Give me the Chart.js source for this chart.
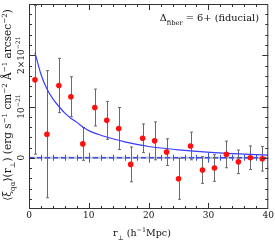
<!DOCTYPE html>
<html>
<head>
<meta charset="utf-8">
<script src="https://cdn.jsdelivr.net/npm/chart.js@4.4.0/dist/chart.umd.min.js"></script>
<style>
  html, body { margin: 0; padding: 0; background: #fff; }
  #wrap { width: 275px; height: 242px; }
</style>
</head>
<body>
<div id="wrap"><canvas id="chart"></canvas></div>
<script>
// measured points (units of 1e-21)
const rPerp = [1, 3, 5, 7, 9, 11, 13, 15, 17, 19, 21, 23, 25, 27, 29, 31, 33, 35, 37, 39];
const xiMean = [1.52, 0.46, 1.41, 1.19, 0.27, 0.98, 0.73, 0.57, -0.13, 0.38, 0.33, 0.11, -0.41, 0.23, -0.24, -0.2, 0.065, -0.08, 0.0, -0.02];
const xiErr = [1.45, 1.24, 0.53, 0.39, 0.32, 0.36, 0.37, 0.41, 0.34, 0.28, 0.37, 0.26, 0.4, 0.27, 0.26, 0.26, 0.26, 0.23, 0.23, 0.24];

// model curve
const modelR = [1, 2, 3, 4, 5, 6, 7, 8, 9, 10, 12, 14, 16, 18, 20, 22, 25, 28, 31, 34, 37, 40];
const modelXi = [2.05, 1.63, 1.34, 1.15, 1.0, 0.87, 0.77, 0.69, 0.6, 0.53, 0.44, 0.37, 0.31, 0.26, 0.22, 0.19, 0.155, 0.125, 0.1, 0.08, 0.065, 0.05];

const yTickVals = [0, 1, 2];
const yTickText = [[["0", 0]], [["10", 0], ["−21", 1]], [["2×10", 0], ["−21", 1]]];

const FAM = "'DejaVu Serif', serif";

function drawRich(ctx, parts, x, y, size, align) {
  const fonts = parts.map(p => (p[1] ? size * 0.68 : size) + "px " + FAM);
  let w = 0;
  parts.forEach((p, i) => { ctx.font = fonts[i]; w += ctx.measureText(p[0]).width; });
  let cx = align === "right" ? x - w : x - w / 2;
  ctx.textAlign = "left";
  ctx.textBaseline = "alphabetic";
  parts.forEach((p, i) => {
    ctx.font = fonts[i];
    ctx.fillText(p[0], cx, y - p[1] * size * 0.42);
    cx += ctx.measureText(p[0]).width;
  });
}

const decor = {
  id: "decor",
  beforeDatasetsDraw(chart) {
    const { ctx, chartArea: a, scales: { x, y } } = chart;
    ctx.save();
    // zero line
    const y0 = y.getPixelForValue(0);
    ctx.strokeStyle = "#b8b8c8";
    ctx.lineWidth = 2;
    ctx.beginPath(); ctx.moveTo(a.left, y0); ctx.lineTo(a.right, y0); ctx.stroke();
    ctx.strokeStyle = "#3a4cf0";
    ctx.lineWidth = 1.3;
    ctx.setLineDash([5, 3]);
    ctx.beginPath(); ctx.moveTo(a.left, y0); ctx.lineTo(a.right, y0); ctx.stroke();
    ctx.setLineDash([]);
    ctx.strokeStyle = "#4455dd";
    ctx.lineWidth = 1;
    for (let v = 2; v < 40; v += 2) {
      const px = Math.round(x.getPixelForValue(v)) + 0.5;
      const len = v % 10 === 0 ? 5 : 3;
      ctx.beginPath(); ctx.moveTo(px, y0 - len); ctx.lineTo(px, y0 + len); ctx.stroke();
    }
    // error bars
    ctx.beginPath();
    ctx.rect(a.left, a.top, a.right - a.left, a.bottom - a.top);
    ctx.clip();
    ctx.strokeStyle = "#6a6a6a";
    ctx.lineWidth = 1;
    rPerp.forEach((r, i) => {
      const px = Math.round(x.getPixelForValue(r)) + 0.5;
      const top = y.getPixelForValue(xiMean[i] + xiErr[i]);
      const bot = y.getPixelForValue(xiMean[i] - xiErr[i]);
      ctx.beginPath();
      ctx.moveTo(px, top); ctx.lineTo(px, bot);
      ctx.moveTo(px - 1.5, top); ctx.lineTo(px + 1.5, top);
      ctx.moveTo(px - 1.5, bot); ctx.lineTo(px + 1.5, bot);
      ctx.stroke();
    });
    ctx.restore();
  },
  afterDraw(chart) {
    const { ctx, chartArea: a, scales: { x, y } } = chart;
    ctx.save();
    ctx.strokeStyle = "#333";
    ctx.lineWidth = 1;
    ctx.strokeRect(a.left + 0.5, a.top + 0.5, a.right - a.left - 1, a.bottom - a.top - 1);
    ctx.beginPath();
    for (let v = 2; v < 40; v += 2) {
      const px = Math.round(x.getPixelForValue(v)) + 0.5;
      const len = v % 10 === 0 ? 6 : 3;
      ctx.moveTo(px, a.bottom); ctx.lineTo(px, a.bottom - len);
      ctx.moveTo(px, a.top); ctx.lineTo(px, a.top + len);
    }
    for (let k = -4; k <= 14; k++) {
      const v = k / 5;
      const py = Math.round(y.getPixelForValue(v)) + 0.5;
      const len = k % 5 === 0 ? 6 : 3;
      ctx.moveTo(a.left, py); ctx.lineTo(a.left + len, py);
      ctx.moveTo(a.right, py); ctx.lineTo(a.right - len, py);
    }
    ctx.stroke();

    ctx.fillStyle = "#111";
    // y tick labels, rotated
    yTickVals.forEach((v, i) => {
      ctx.save();
      ctx.translate(a.left - 5, y.getPixelForValue(v));
      ctx.rotate(-Math.PI / 2);
      drawRich(ctx, yTickText[i], 0, 0, 9, "center");
      ctx.restore();
    });
    // y title
    ctx.save();
    ctx.translate(11, 105);
    ctx.rotate(-Math.PI / 2);
    drawRich(ctx, [["⟨ξ", 0], ["qα", -1], ["⟩(r", 0], ["⊥", -1], [") (erg s", 0], ["−1", 1], [" cm", 0], ["−2", 1],
      [" Å", 0], ["−1", 1], [" arcsec", 0], ["−2", 1], [")", 0]], 0, 0, 10.5, "center");
    ctx.restore();
    // x title
    drawRich(ctx, [["r", 0], ["⊥", -1], [" (h", 0], ["−1", 1], ["Mpc)", 0]], 142, 236, 9.5, "center");
    // label
    drawRich(ctx, [["Δ", 0], ["fiber", -1], [" = 6+ (fiducial)", 0]], 259, 21, 9.8, "right");
    ctx.restore();
  }
};

new Chart(document.getElementById("chart"), {
  type: "scatter",
  data: {
    datasets: [
      {
        data: rPerp.map((r, i) => ({ x: r, y: xiMean[i] })),
        backgroundColor: "#ff1010",
        borderColor: "#ff1010",
        pointRadius: 2.8,
        borderWidth: 0
      },
      {
        type: "line",
        data: modelR.map((r, i) => ({ x: r, y: modelXi[i] })),
        borderColor: "#3a3cff",
        borderWidth: 1.2,
        pointRadius: 0,
        cubicInterpolationMode: "monotone",
        fill: false
      }
    ]
  },
  plugins: [decor],
  options: {
    responsive: true,
    maintainAspectRatio: false,
    animation: false,
    layout: { padding: { left: 0, right: 6, top: 1, bottom: 0 } },
    plugins: { legend: { display: false }, tooltip: { enabled: false } },
    scales: {
      x: {
        type: "linear", min: 0, max: 40,
        grid: { display: false, drawTicks: false },
        border: { display: false },
        ticks: { stepSize: 10, color: "#111", padding: 1, font: { family: FAM, size: 9 } },
        afterFit(s) { s.height = 33; }
      },
      y: {
        min: -1, max: 3,
        grid: { display: false, drawTicks: false },
        border: { display: false },
        ticks: { display: false },
        afterFit(s) { s.width = 29; }
      }
    }
  }
});
</script>
</body>
</html>
